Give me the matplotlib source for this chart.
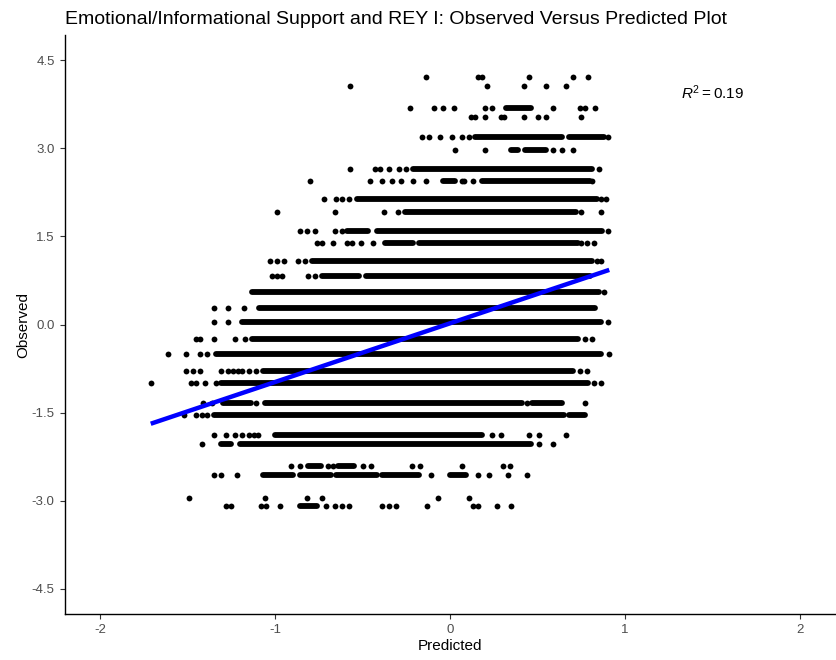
import matplotlib
matplotlib.use('Agg')
import matplotlib.pyplot as plt

plt.rcParams['font.family'] = ['Liberation Sans', 'DejaVu Sans']
plt.rcParams['mathtext.fontset'] = 'custom'
plt.rcParams['mathtext.rm'] = 'Liberation Sans'
plt.rcParams['mathtext.it'] = 'Liberation Sans:italic'

# observed score levels (standardised)
levels = [4.22, 4.06, 3.69, 3.54, 3.19, 2.98, 2.645, 2.446, 2.134, 1.913,
          1.595, 1.381, 1.085, 0.83, 0.558, 0.276, 0.048, -0.247, -0.497,
          -0.786, -1.0, -1.34, -1.534, -1.879, -2.032, -2.412, -2.571,
          -2.956, -3.092]

# predicted values where the points at each level pile up into a solid band
runs = [
    [],
    [],
    [(0.32, 0.46)],
    [],
    [(0.14, 0.64), (0.68, 0.88)],
    [(0.35, 0.39), (0.43, 0.55)],
    [(-0.21, 0.81)],
    [(-0.04, 0.03), (0.18, 0.80)],
    [(-0.53, 0.84)],
    [(-0.26, 0.72)],
    [(-0.59, -0.47), (-0.42, 0.87)],
    [(-0.37, -0.21), (-0.18, 0.73)],
    [(-0.79, 0.81)],
    [(-0.73, -0.52), (-0.48, 0.80)],
    [(-1.13, 0.85)],
    [(-1.09, 0.83)],
    [(-1.19, 0.86)],
    [(-1.13, 0.73)],
    [(-1.34, 0.86)],
    [(-1.07, 0.70)],
    [(-1.31, 0.79)],
    [(-1.30, -1.14), (-1.06, 0.41), (0.47, 0.64)],
    [(-1.35, 0.65), (0.68, 0.77)],
    [(-1.0, 0.18)],
    [(-1.31, -1.25), (-1.20, 0.46)],
    [(-0.81, -0.74), (-0.64, -0.55)],
    [(-1.07, -0.90), (-0.86, -0.68), (-0.65, -0.42), (-0.39, -0.18), (0.00, 0.09)],
    [],
    [(-0.86, -0.76)],
]

# predicted values of the isolated points at each level
dots = [
    [-0.14, 0.16, 0.18, 0.45, 0.70, 0.79],
    [-0.57, 0.21, 0.42, 0.55, 0.66],
    [-0.23, -0.09, -0.04, 0.02, 0.20, 0.24, 0.59, 0.74, 0.77, 0.83],
    [0.12, 0.14, 0.20, 0.29, 0.31, 0.42, 0.50, 0.55, 0.75],
    [-0.16, -0.12, -0.06, 0.01, 0.07, 0.11, 0.90],
    [0.03, 0.20, 0.59, 0.64, 0.70],
    [-0.57, -0.43, -0.40, -0.35, -0.29, -0.25, 0.85],
    [-0.80, -0.46, -0.39, -0.33, -0.28, -0.21, -0.14, 0.07, 0.08, 0.13, 0.81],
    [-0.72, -0.65, -0.62, -0.58, 0.86, 0.89],
    [-0.99, -0.66, -0.38, -0.30, 0.75, 0.86],
    [-0.86, -0.82, -0.77, -0.66, -0.62, 0.90],
    [-0.76, -0.73, -0.67, -0.59, -0.56, -0.51, -0.44, 0.75, 0.78, 0.82],
    [-1.03, -0.99, -0.95, -0.87, -0.83, 0.84, 0.86],
    [-1.02, -0.99, -0.96, -0.81, -0.77],
    [0.88],
    [-1.35, -1.27, -1.18],
    [-1.35, -1.27, 0.90],
    [-1.45, -1.43, -1.35, -1.23, -1.17, 0.77, 0.81],
    [-1.61, -1.51, -1.43, -1.39, 0.91],
    [-1.51, -1.47, -1.43, -1.31, -1.27, -1.24, -1.21, -1.19, -1.15, -1.11, 0.74, 0.78],
    [-1.71, -1.48, -1.45, -1.40, -1.34, 0.82, 0.86],
    [-1.41, -1.36, -1.11, 0.44, 0.77],
    [-1.52, -1.45, -1.42, -1.39],
    [-1.35, -1.28, -1.23, -1.19, -1.15, -1.12, -1.10, 0.24, 0.29, 0.45, 0.51, 0.66],
    [-1.42, 0.51, 0.59],
    [-0.91, -0.86, -0.70, -0.67, -0.50, -0.45, -0.22, -0.17, 0.07, 0.30, 0.34],
    [-1.35, -1.31, -1.22, -0.11, 0.16, 0.22, 0.33, 0.44],
    [-1.49, -1.06, -0.82, -0.73, -0.07, 0.11],
    [-1.28, -1.25, -1.08, -1.05, -0.97, -0.71, -0.66, -0.62, -0.58, -0.39,
     -0.35, -0.31, -0.13, 0.13, 0.16, 0.27, 0.35],
]

# linear fit of observed on predicted
fit_slope = 1.0
fit_intercept = 0.02
pred_min = -1.71
pred_max = 0.91
r_squared = 0.19

xticks = [-2, -1, 0, 1, 2]
yticks = [-4.5, -3.0, -1.5, 0.0, 1.5, 3.0, 4.5]
ytick_labels = ['-4.5', '-3.0', '-1.5', '0.0', '1.5', '3.0', '4.5']

dot_pt = 4.2

fig = plt.figure(figsize=(8.36, 6.60), dpi=100)
ax = fig.add_axes([65/836, 46/660, 770/836, 579/660])

for y, segs, xs in zip(levels, runs, dots):
    for x0, x1 in segs:
        ax.plot([x0, x1], [y, y], color='black', lw=dot_pt,
                solid_capstyle='round', zorder=2)
    ax.scatter(xs, [y]*len(xs), s=dot_pt**2, color='black',
               linewidths=0, zorder=2)

ax.plot([pred_min, pred_max],
        [fit_intercept + fit_slope*pred_min, fit_intercept + fit_slope*pred_max],
        color='#0000FF', lw=3.2, solid_capstyle='butt', zorder=3)

ax.text(1.5, 3.95, r'$R^2 = %.2f$' % r_squared, ha='center', va='center',
        fontsize=11)

ax.set_xlim(-2.2, 2.2)
ax.set_ylim(-4.93, 4.93)
ax.set_xticks(xticks)
ax.set_xticklabels([str(t) for t in xticks])
ax.set_yticks(yticks)
ax.set_yticklabels(ytick_labels)
ax.tick_params(colors='#333333', labelcolor='#4D4D4D', labelsize=9.5,
               length=3.5, width=0.8, pad=4)

for side in ['top', 'right']:
    ax.spines[side].set_visible(False)
for side in ['left', 'bottom']:
    ax.spines[side].set_linewidth(1.0)
    ax.spines[side].set_color('black')

ax.set_xlabel('Predicted', fontsize=11, labelpad=2)
ax.set_ylabel('Observed', fontsize=11, labelpad=1)
ax.set_title('Emotional/Informational Support and REY I: Observed Versus Predicted Plot',
             loc='left', fontsize=14, pad=8)

fig.savefig('out.png', dpi=100)
